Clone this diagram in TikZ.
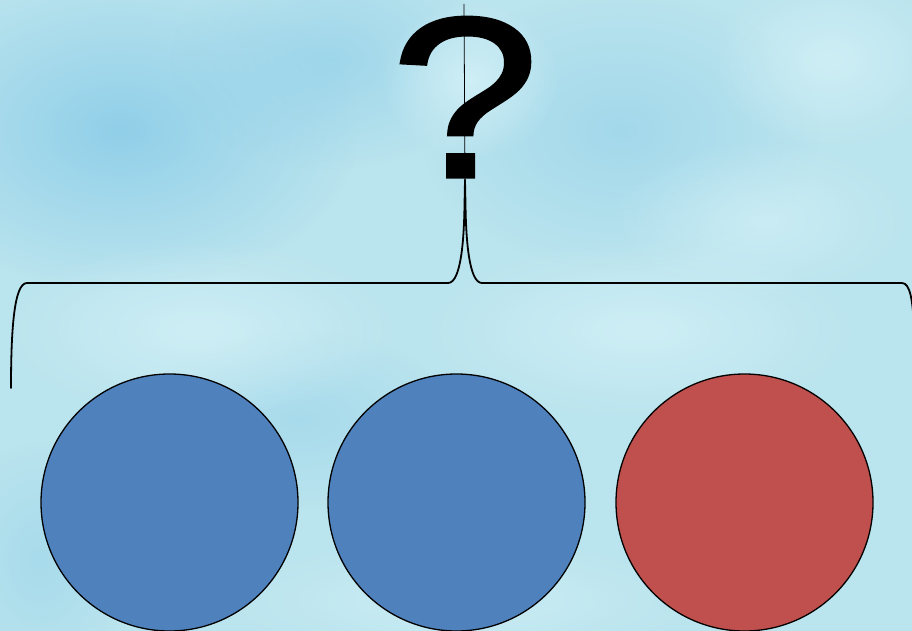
\documentclass[tikz,border=0pt]{standalone}
\usepackage{fontspec}
\setmainfont{Liberation Sans}
\usepackage{graphicx}
\usetikzlibrary{fadings}
\tikzfading[name=softedge, inner color=transparent!0, outer color=transparent!100]
\definecolor{bgbase}{RGB}{186,228,238}
\definecolor{bgblue}{RGB}{140,205,232}
\definecolor{bglight}{RGB}{220,245,250}
\definecolor{ballblue}{RGB}{79,129,189}
\definecolor{ballred}{RGB}{192,80,77}
\newcommand{\heavyglyph}[1]{\special{pdf:literal 2 Tr 3 w}#1\special{pdf:literal 0 Tr}}
\tikzset{
  ball/.style={circle, draw=black, line width=1.3pt, minimum size=257pt, inner sep=0pt},
  bracestyle/.style={draw=black, line width=1.8pt, line join=round, line cap=round},
  blob/.style={path fading=softedge, opacity=#1},
}
\begin{document}
\begin{tikzpicture}[x=1pt,y=-1pt]
\useasboundingbox (0,0) rectangle (912,631);
\begin{scope}
\clip (0,0) rectangle (912,631);
% background
\fill[bgbase] (0,0) rectangle (912,631);
\fill[bgblue, blob=0.9] (120,130) ellipse (240 and 160);
\fill[bgblue, blob=0.6] (330,60) ellipse (160 and 110);
\fill[bgblue, blob=0.5] (620,130) ellipse (200 and 140);
\fill[bgblue, blob=0.4] (300,420) ellipse (160 and 90);
\fill[bglight, blob=0.7] (470,80) ellipse (90 and 80);
\fill[bglight, blob=0.6] (830,60) ellipse (120 and 90);
\fill[bglight, blob=0.6] (200,330) ellipse (200 and 90);
\fill[bglight, blob=0.6] (640,330) ellipse (220 and 90);
\fill[bglight, blob=0.5] (760,220) ellipse (150 and 80);
\fill[bglight, blob=0.5] (460,600) ellipse (250 and 60);
\fill[bgblue, blob=0.4] (40,560) ellipse (90 and 120);

% question mark
\node[anchor=base, inner sep=0pt, font=\fontsize{229}{229}\selectfont] (q) at (465,177) {\scalebox{1.17}[1]{\heavyglyph{?}}};
\coordinate (top) at (464,4);
\coordinate (tip) at (465,180);
\draw[black, line width=0.8pt] (top) -- (tip);

% brace
\coordinate (lend) at (11,388);
\coordinate (rend) at (914,330);
\draw[bracestyle] (lend) .. controls (11,330) and (14,283) .. (27,283)
  -- (448,283) .. controls (461,283) and (464,240) .. (464.5,205) -- (tip);
\draw[bracestyle] (tip) -- (465.5,205) .. controls (466,240) and (469,283) .. (482,283)
  -- (902,283) .. controls (910,283) and (913,300) .. (rend);

% circles
\node[ball, fill=ballblue] (b1) at (169.5,502.5) {};
\node[ball, fill=ballblue] (b2) at (456.5,502.5) {};
\node[ball, fill=ballred] (b3) at (744.5,502.5) {};
\end{scope}
\end{tikzpicture}
\end{document}
